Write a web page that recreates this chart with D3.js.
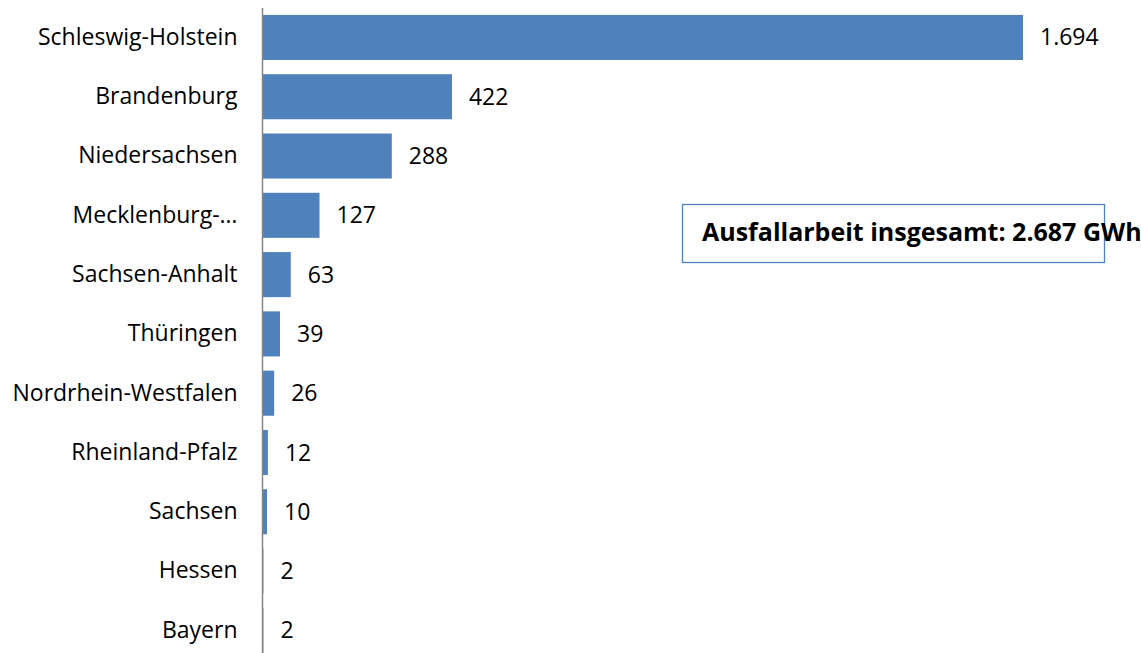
<!DOCTYPE html>
<html>
<head>
<meta charset="utf-8">
<script src="https://cdn.jsdelivr.net/npm/d3@7"></script>
<style>
  body { margin: 0; background: #fff; }
  text { font-family: "Open Sans", sans-serif; }
</style>
</head>
<body>
<svg id="chart" width="1141" height="653"></svg>
<script>
// Ausfallarbeit nach Bundesland (GWh)
var states = ["Schleswig-Holstein", "Brandenburg", "Niedersachsen", "Mecklenburg-…",
              "Sachsen-Anhalt", "Thüringen", "Nordrhein-Westfalen", "Rheinland-Pfalz",
              "Sachsen", "Hessen", "Bayern"];
var values = [1694, 422, 288, 127, 63, 39, 26, 12, 10, 2, 2];
var totalLabel = "Ausfallarbeit insgesamt: 2.687 GWh";

var width = 1141,
    height = 653,
    axisX = 262.5;

var barColor = "#4f81bd";

var de = d3.formatLocale({decimal: ",", thousands: ".", grouping: [3], currency: ["", " €"]});
var fmt = de.format(",d");

var svg = d3.select("#chart");

var x = d3.scaleLinear()
    .domain([0, 1694])
    .range([axisX, 1023]);

var y = d3.scaleBand()
    .domain(states)
    .range([7.8, 660])
    .paddingInner(0.24)
    .paddingOuter(0.12);

var rows = svg.selectAll(".row")
    .data(states.map(function(s, i) { return {name: s, value: values[i]}; }))
    .enter().append("g")
    .attr("class", "row");

rows.append("rect")
    .attr("x", x(0))
    .attr("y", function(d) { return y(d.name); })
    .attr("width", function(d) { return x(d.value) - x(0); })
    .attr("height", y.bandwidth())
    .attr("fill", barColor);

rows.append("text")
    .attr("x", function(d) { return x(d.value) + 17; })
    .attr("y", function(d) { return y(d.name) + y.bandwidth() / 2; })
    .attr("dy", "0.35em")
    .attr("font-size", 23)
    .attr("fill", "#000")
    .text(function(d) { return fmt(d.value); });

// category axis
var yAxis = d3.axisLeft(y).tickSize(0).tickPadding(25);
var ga = svg.append("g")
    .attr("transform", "translate(" + axisX + ",0)")
    .call(yAxis);
ga.select(".domain").remove();
ga.selectAll("text")
    .attr("font-size", 23)
    .attr("fill", "#000")
    .style("font-family", "'Open Sans', sans-serif");

svg.append("line")
    .attr("x1", axisX).attr("x2", axisX)
    .attr("y1", 8).attr("y2", height)
    .attr("stroke", "#868686")
    .attr("stroke-width", 1.5);

// total box
svg.append("rect")
    .attr("x", 682.5).attr("y", 204.5)
    .attr("width", 422).attr("height", 58)
    .attr("fill", "none")
    .attr("stroke", "#4f81bd")
    .attr("stroke-width", 1.3);

svg.append("text")
    .attr("x", 702)
    .attr("y", 232)
    .attr("dy", "0.35em")
    .attr("font-size", 25)
    .attr("font-weight", "bold")
    .attr("fill", "#000")
    .text(totalLabel);
</script>
</body>
</html>
